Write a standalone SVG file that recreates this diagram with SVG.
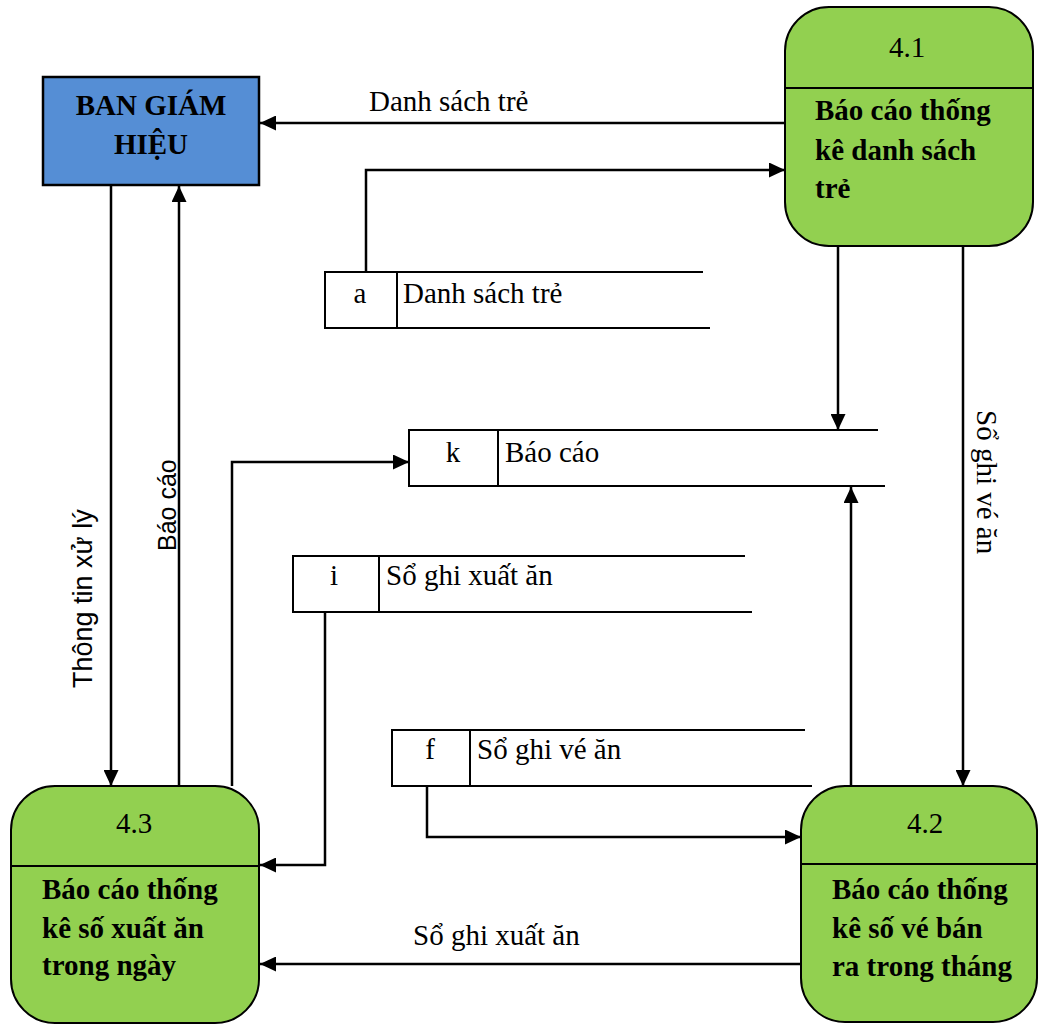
<svg xmlns="http://www.w3.org/2000/svg" width="1039" height="1026" viewBox="0 0 1039 1026">
  <style>
    .serif { font-family: "Liberation Serif", "Times New Roman", serif; font-size: 29px; fill: #000; }
    .bold { font-weight: bold; }
    .sans { font-family: "Liberation Sans", Arial, sans-serif; fill: #000; }
    .mid { text-anchor: middle; }
    .proc { fill: #92D050; stroke: #000; stroke-width: 2; }
    .ext { fill: #558ED5; stroke: #000; stroke-width: 2.5; }
    .div { stroke: #000; stroke-width: 2; }
    .store { fill: none; stroke: #000; stroke-width: 2; }
    .flow { fill: none; stroke: #000; stroke-width: 2.5; marker-end: url(#arrow); }
  </style>
  <defs>
    <marker id="arrow" markerUnits="userSpaceOnUse" markerWidth="16" markerHeight="15" refX="16" refY="7.5" orient="auto">
      <path d="M0,0 L16,7.5 L0,15 z" fill="#000"/>
    </marker>
  </defs>

  <rect width="1039" height="1026" fill="#fff"/>

  <!-- external entity -->
  <g id="ban-giam-hieu">
    <rect class="ext" x="43" y="77" width="216" height="108"/>
    <text class="serif bold mid" x="151" y="115">BAN GIÁM</text>
    <text class="serif bold mid" x="151" y="154">HIỆU</text>
  </g>

  <!-- processes -->
  <g id="p41">
    <rect class="proc" x="785" y="7" width="248" height="239" rx="44" ry="44"/>
    <line class="div" x1="785" y1="88" x2="1033" y2="88"/>
    <text class="serif mid" x="907" y="57">4.1</text>
    <text class="serif bold" x="815" y="120">Báo cáo thống</text>
    <text class="serif bold" x="815" y="160">kê danh sách</text>
    <text class="serif bold" x="815" y="198">trẻ</text>
  </g>

  <g id="p42">
    <rect class="proc" x="801" y="786" width="236" height="236" rx="44" ry="44"/>
    <line class="div" x1="801" y1="864" x2="1037" y2="864"/>
    <text class="serif mid" x="925" y="833">4.2</text>
    <text class="serif bold" x="832" y="899">Báo cáo thống</text>
    <text class="serif bold" x="832" y="938">kê số vé bán</text>
    <text class="serif bold" x="832" y="976">ra trong tháng</text>
  </g>

  <g id="p43">
    <rect class="proc" x="11" y="786" width="248" height="237" rx="44" ry="44"/>
    <line class="div" x1="11" y1="866" x2="259" y2="866"/>
    <text class="serif mid" x="134" y="833">4.3</text>
    <text class="serif bold" x="42" y="899">Báo cáo thống</text>
    <text class="serif bold" x="42" y="938">kê số xuất ăn</text>
    <text class="serif bold" x="42" y="975">trong ngày</text>
  </g>

  <!-- data stores -->
  <g id="store-a">
    <rect class="store" x="325" y="272" width="72" height="56"/>
    <line class="store" x1="397" y1="272" x2="703" y2="272"/>
    <line class="store" x1="397" y1="328" x2="710" y2="328"/>
    <text class="serif mid" x="360" y="303">a</text>
    <text class="serif" x="403" y="303">Danh sách trẻ</text>
  </g>

  <g id="store-k">
    <rect class="store" x="409" y="430" width="89" height="56"/>
    <line class="store" x1="498" y1="430" x2="878" y2="430"/>
    <line class="store" x1="498" y1="486" x2="885" y2="486"/>
    <text class="serif mid" x="453" y="462">k</text>
    <text class="serif" x="505" y="462">Báo cáo</text>
  </g>

  <g id="store-i">
    <rect class="store" x="293" y="556" width="86" height="56"/>
    <line class="store" x1="379" y1="556" x2="745" y2="556"/>
    <line class="store" x1="379" y1="612" x2="752" y2="612"/>
    <text class="serif mid" x="334" y="585">i</text>
    <text class="serif" x="386" y="585">Sổ ghi xuất ăn</text>
  </g>

  <g id="store-f">
    <rect class="store" x="392" y="730" width="78" height="56"/>
    <line class="store" x1="470" y1="730" x2="805" y2="730"/>
    <line class="store" x1="470" y1="786" x2="812" y2="786"/>
    <text class="serif mid" x="430" y="759">f</text>
    <text class="serif" x="477" y="759">Sổ ghi vé ăn</text>
  </g>

  <!-- data flows -->
  <g id="connectors">
    <path class="flow" d="M785,123 L260,123"/>
    <path class="flow" d="M366,272 L366,170 L785,170"/>
    <path class="flow" d="M838,246 L838,430"/>
    <path class="flow" d="M963,246 L963,786"/>
    <path class="flow" d="M851,786 L851,487"/>
    <path class="flow" d="M427,786 L427,837 L801,837"/>
    <path class="flow" d="M801,964 L260,964"/>
    <path class="flow" d="M325,612 L325,865 L260,865"/>
    <path class="flow" d="M232,786 L232,462 L409,462"/>
    <path class="flow" d="M111,185 L111,786"/>
    <path class="flow" d="M179,786 L179,186"/>

    <text class="serif" x="369" y="111">Danh sách trẻ</text>
    <text class="serif" x="413" y="945">Sổ ghi xuất ăn</text>
    <text class="serif" transform="translate(977,410) rotate(90)">Sổ ghi vé ăn</text>
    <text class="sans" font-size="27" transform="translate(92,688) rotate(-90)">Thông tin xử lý</text>
    <text class="sans" font-size="25" transform="translate(176,551) rotate(-90)">Báo cáo</text>
  </g>
</svg>
